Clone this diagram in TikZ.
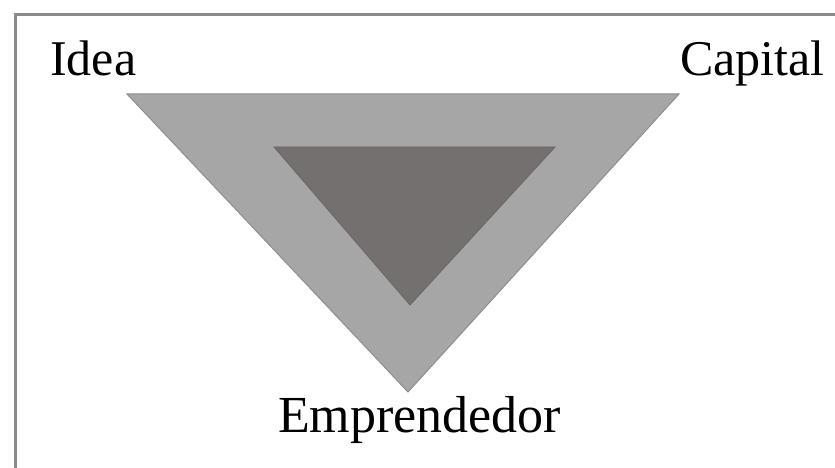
\documentclass[tikz,border=0pt]{standalone}
\usepackage{fontspec}
\setmainfont{Liberation Serif}
\definecolor{outerfill}{HTML}{A6A6A6}
\definecolor{outerline}{HTML}{8E8E8E}
\definecolor{innerfill}{HTML}{747070}
\definecolor{innerline}{HTML}{6A6666}
\definecolor{frame}{HTML}{8A8A8A}
\begin{document}
\begin{tikzpicture}[x=1pt,y=1pt,
  lbl/.style={inner sep=0pt, font=\fontsize{50}{60}\selectfont, text=black}]
\useasboundingbox (0,0) rectangle (835,468);
\fill[white] (0,0) rectangle (835,468);
% frame (only top and left edges visible)
\draw[frame, line width=3pt] (15,-2) -- (15,453.5) -- (837,453.5);
% outer triangle
\coordinate (oA) at (127,374);
\coordinate (oB) at (679,374);
\coordinate (oC) at (408,76);
\filldraw[fill=outerfill, draw=outerline, line width=1pt] (oA) -- (oB) -- (oC) -- cycle;
% inner triangle
\coordinate (iA) at (274,321);
\coordinate (iB) at (555,321);
\coordinate (iC) at (410,163);
\filldraw[fill=innerfill, draw=innerline, line width=0.8pt] (iA) -- (iB) -- (iC) -- cycle;
% labels
\node[lbl, anchor=base west] (idea) at (50,392) {Idea};
\node[lbl, anchor=base west] (capital) at (680,392) {Capital};
\node[lbl, anchor=base, font=\fontsize{52}{60}\selectfont] (empr) at (419.5,35) {Emprendedor};
\end{tikzpicture}
\end{document}
